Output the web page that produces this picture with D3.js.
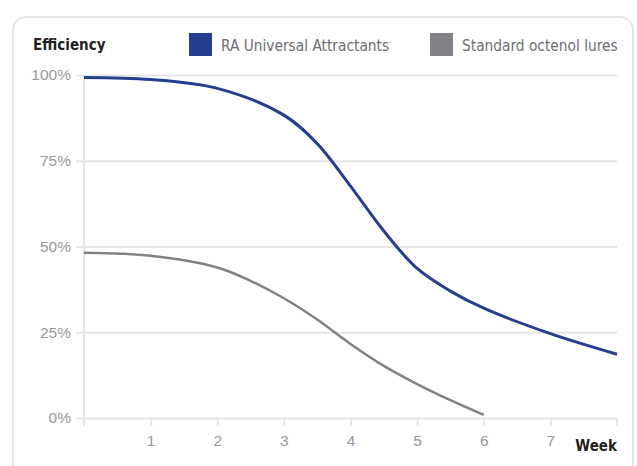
<!DOCTYPE html>
<html lang="en">
<head>
    <meta charset="UTF-8">
    <title>Efficiency by week</title>
    <script src="https://d3js.org/d3.v7.min.js"></script>
    <style>
        body { margin: 0; background: #fff; }
        svg { font-family: "Liberation Sans Narrow", "DejaVu Sans Condensed", sans-serif; }
        .grid line { stroke: #e6e6e7; stroke-width: 2px; }
        .tick text { fill: #98999c; font-size: 15.5px; }
        .legend text { fill: #6d6e71; font-size: 15.3px; }
    </style>
</head>
<body>
    <script>
        // Data
        const weeks = [0, 1, 2, 3, 3.5, 4, 4.5, 5, 5.5, 6, 7, 8];
        const raValues = [99.3, 98.7, 96.1, 88.3, 80, 67.6, 54.5, 43.6, 37, 32, 24.6, 18.6];
        const octenolWeeks = [0, 1, 2, 2.5, 3, 3.5, 4, 4.5, 5, 5.5, 6];
        const octenolValues = [48.2, 47.3, 43.9, 40, 34.9, 28.7, 21.6, 15.2, 9.9, 5.2, 0.9];
        const yTicks = [0, 25, 50, 75, 100];
        const xTicks = [1, 2, 3, 4, 5, 6, 7];
        const seriesNames = ["RA Universal Attractants", "Standard octenol lures"];
        const seriesColors = ["#253f8e", "#808285"];

        const width = 637, height = 466;
        const svg = d3.select("body").append("svg")
            .attr("width", width)
            .attr("height", height);

        // card frame
        svg.append("rect")
            .attr("x", 13).attr("y", 17)
            .attr("width", 620).attr("height", 460)
            .attr("rx", 13)
            .attr("fill", "#fff")
            .attr("stroke", "#e6e6e7")
            .attr("stroke-width", 2);

        const x = d3.scaleLinear().domain([0, 8]).range([84, 617]);
        const y = d3.scaleLinear().domain([0, 100]).range([418, 75]);

        // horizontal gridlines + y labels
        const yAxis = svg.append("g")
            .attr("class", "grid")
            .attr("transform", "translate(84,0)")
            .call(d3.axisLeft(y).tickValues(yTicks).tickSize(8).tickFormat(d => d + "%"))
            .call(g => g.select(".domain").remove());
        yAxis.selectAll(".tick").append("line")
            .attr("x2", x(8) - 84);
        yAxis.selectAll(".tick text").attr("x", -13).attr("dy", "0.32em");

        // vertical axis line
        svg.append("line")
            .attr("x1", 84).attr("x2", 84)
            .attr("y1", y(100)).attr("y2", y(0) + 8)
            .attr("stroke", "#e6e6e7").attr("stroke-width", 2);

        // x axis ticks
        const xAxis = svg.append("g")
            .attr("class", "grid")
            .attr("transform", `translate(0,${y(0)})`)
            .call(d3.axisBottom(x).tickValues(xTicks).tickSize(8).tickFormat(d3.format("d")))
            .call(g => g.select(".domain").remove());
        xAxis.selectAll(".tick text").attr("y", 17).attr("dy", "0.71em");
        xAxis.append("line")
            .attr("x1", x(8)).attr("x2", x(8))
            .attr("y1", 0).attr("y2", 8);

        svg.append("text")
            .attr("x", x(8)).attr("y", 451)
            .attr("text-anchor", "end")
            .attr("font-weight", "bold")
            .attr("font-size", 15)
            .attr("fill", "#231f20")
            .text("Week");

        svg.append("text")
            .attr("x", 33).attr("y", 50)
            .attr("font-weight", "bold")
            .attr("font-size", 15)
            .attr("fill", "#231f20")
            .text("Efficiency");

        // lines
        const line = d3.line()
            .x(d => x(d[0]))
            .y(d => y(d[1]))
            .curve(d3.curveCatmullRom.alpha(0.5));

        svg.append("path")
            .datum(octenolWeeks.map((w, i) => [w, octenolValues[i]]))
            .attr("fill", "none")
            .attr("stroke", seriesColors[1])
            .attr("stroke-width", 2.5)
            .attr("d", line);

        svg.append("path")
            .datum(weeks.map((w, i) => [w, raValues[i]]))
            .attr("fill", "none")
            .attr("stroke", seriesColors[0])
            .attr("stroke-width", 3)
            .attr("d", line);

        // legend
        const legendX = [189, 430];
        const legend = svg.append("g").attr("class", "legend")
            .selectAll("g")
            .data(seriesNames)
            .join("g")
            .attr("transform", (d, i) => `translate(${legendX[i]},33)`);
        legend.append("rect")
            .attr("width", 23).attr("height", 23)
            .attr("fill", (d, i) => seriesColors[i]);
        legend.append("text")
            .attr("x", 32).attr("y", 18)
            .text(d => d);
    </script>
</body>
</html>
